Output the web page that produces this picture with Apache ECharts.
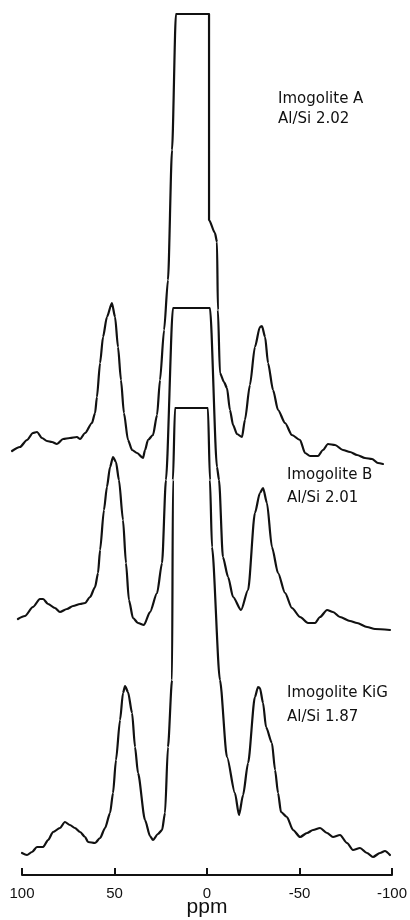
<!DOCTYPE html>
<html>
<head>
<meta charset="utf-8">
<script src="https://cdn.jsdelivr.net/npm/echarts@6/dist/echarts.min.js"></script>
<style>
html,body{margin:0;padding:0;background:#fff;}
#chart{width:410px;height:920px;}
</style>
</head>
<body>
<div id="chart"></div>
<script>
// Chemical shift (ppm) and stacked intensity (arbitrary units) for each spectrum
var ppmA = [105.4,101.1,97.3,94.1,91.9,89.2,86.5,83.8,81.1,77.8,74.1,70.3,68.6,65.9,62.2,60.5,59.5,57.8,56.2,54.1,51.4,49.7,48.1,46.5,44.9,42.7,40.5,37.8,34.6,33.5,31.9,29.2,27.0,25.4,23.2,21.1,18.9,16.8,-1.1,-1.1,-4.3,-5.4,-5.9,-7.0,-9.2,-10.8,-12.4,-14.1,-16.2,-18.9,-20.5,-23.2,-25.9,-28.6,-29.7,-31.4,-33.0,-35.7,-38.4,-42.2,-45.9,-50.3,-53.0,-55.7,-60.0,-62.7,-65.4,-69.2,-73.5,-77.3,-81.1,-85.4,-89.2,-92.4,-95.1];
var intA = [424,428,435,442,443,437,434,433,431,436,437,438,436,442,452,462,478,512,538,558,572,558,528,495,462,435,425,422,417,425,435,440,460,495,545,595,725,861,861,655,642,633,565,502,493,487,465,450,441,438,455,490,528,548,549,538,512,485,465,452,440,435,422,419,419,425,431,430,425,423,420,417,416,412,411];

var ppmB = [102.2,98.4,94.1,90.3,88.6,85.9,82.2,79.5,75.7,72.4,68.6,65.9,63.2,60.5,58.9,57.8,55.7,54.1,52.4,50.8,49.2,47.6,45.4,43.8,42.2,40.0,37.3,34.1,30.8,27.0,24.3,22.2,18.4,-1.6,-5.4,-6.5,-8.6,-11.4,-14.1,-18.4,-22.2,-25.9,-28.6,-30.3,-32.4,-35.1,-38.4,-42.2,-45.9,-50.3,-54.6,-58.4,-61.1,-64.9,-68.1,-71.9,-77.3,-81.1,-86.5,-90.8,-98.9];
var intB = [256,259,268,276,276,271,267,263,266,269,271,272,278,288,302,325,365,388,408,418,413,395,355,312,275,257,252,250,263,282,312,395,567,567,408,395,318,298,278,265,285,362,382,387,372,328,302,282,267,258,252,252,258,265,263,258,254,252,248,246,245];

var ppmK = [100,97.3,94.6,91.9,88.6,85.9,83.2,79.5,76.8,74.1,71.4,68.6,65.9,64.3,60.5,57.8,55.1,52.4,50.8,49.2,47.0,45.4,44.3,42.7,40.5,38.9,37.3,33.5,30.8,29.2,26.5,24.3,22.7,21.1,18.9,18.4,17.3,-0.5,-1.6,-2.7,-7.0,-10.8,-15.1,-17.3,-19.5,-22.2,-25.9,-27.6,-28.6,-30.3,-31.9,-35.1,-36.8,-38.4,-40.0,-43.2,-46.5,-50.3,-54.1,-57.3,-61.1,-64.9,-68.1,-71.9,-75.7,-78.9,-82.7,-86.5,-89.7,-93.5,-96.2,-98.9];
var intK = [22,20,23,28,28,35,43,47,53,50,47,43,38,33,32,37,47,62,82,115,155,182,189,183,162,128,102,55,39,35,41,45,62,128,195,395,467,467,395,328,195,118,82,60,80,112,178,188,187,172,148,132,105,82,63,58,45,38,42,45,47,42,38,40,32,25,27,22,18,22,24,20];

var sampleNames = ['Imogolite A','Imogolite B','Imogolite KiG'];
var ratioLabels = ['Al/Si 2.02','Al/Si 2.01','Al/Si 1.87'];
var xTicks = [100,50,0,-50,-100];
var xAxisName = 'ppm';

function zip(xs, ys){ var out=[]; for(var i=0;i<xs.length;i++) out.push([xs[i], ys[i]]); return out; }

// plot area: ppm 100 -> x=22, ppm -100 -> x=392 ; wider hidden grid carries the traces so they may start left of 100 ppm
var pxPerPpm = 370/200;
var extraPpm = 22/pxPerPpm;

var lineStyle = {color:'#111', width:2.2, join:'round', cap:'round'};
function mkSeries(name, xs, ys){
  return {name:name, type:'line', xAxisIndex:1, yAxisIndex:1, data:zip(xs,ys),
          showSymbol:false, symbol:'none', clip:false, lineStyle:lineStyle,
          smooth:0.25, smoothMonotone:'x', silent:true};
}

var chart = echarts.init(document.getElementById('chart'), null, {renderer:'canvas'});
var labelPos = [[278,99.5,119.5],[287,476,499],[287,694,718]];
var graphics = [];
for (var i=0;i<3;i++){
  graphics.push({type:'text', left:labelPos[i][0], top:labelPos[i][1]-8,
    style:{text:sampleNames[i], fill:'#111', font:'15px "DejaVu Sans", sans-serif'}});
  graphics.push({type:'text', left:labelPos[i][0], top:labelPos[i][2]-8,
    style:{text:ratioLabels[i], fill:'#111', font:'15px "DejaVu Sans", sans-serif'}});
}

chart.setOption({
  animation:false,
  backgroundColor:'#fff',
  grid:[{left:22, right:18, top:0, bottom:45, containLabel:false, outerBoundsMode:'none'},
        {left:0, right:18, top:0, bottom:45, containLabel:false, outerBoundsMode:'none'}],
  xAxis:[{gridIndex:0, type:'value', min:-100, max:100, interval:50, inverse:true,
    name:xAxisName, nameLocation:'middle', nameGap:22, nameMoveOverlap:false,
    nameTextStyle:{color:'#111', fontSize:21, fontFamily:'"Liberation Sans", Arial, sans-serif'},
    axisLine:{show:true, lineStyle:{color:'#111', width:2}},
    axisTick:{show:true, inside:true, length:7, lineStyle:{color:'#111', width:2}},
    axisLabel:{color:'#111', fontSize:15, margin:11, fontFamily:'"Liberation Sans", Arial, sans-serif',
      formatter:function(v){ return xTicks.indexOf(v)>=0 ? String(v) : ''; }},
    splitLine:{show:false}},
   {gridIndex:1, type:'value', min:-100, max:100+extraPpm, inverse:true, show:false, splitLine:{show:false}}],
  yAxis:[{gridIndex:0, type:'value', min:0, max:875, show:false, splitLine:{show:false}},
         {gridIndex:1, type:'value', min:0, max:875, show:false, splitLine:{show:false}}],
  series:[mkSeries(sampleNames[0],ppmA,intA), mkSeries(sampleNames[1],ppmB,intB), mkSeries(sampleNames[2],ppmK,intK)],
  graphic:graphics
});
</script>
</body>
</html>
